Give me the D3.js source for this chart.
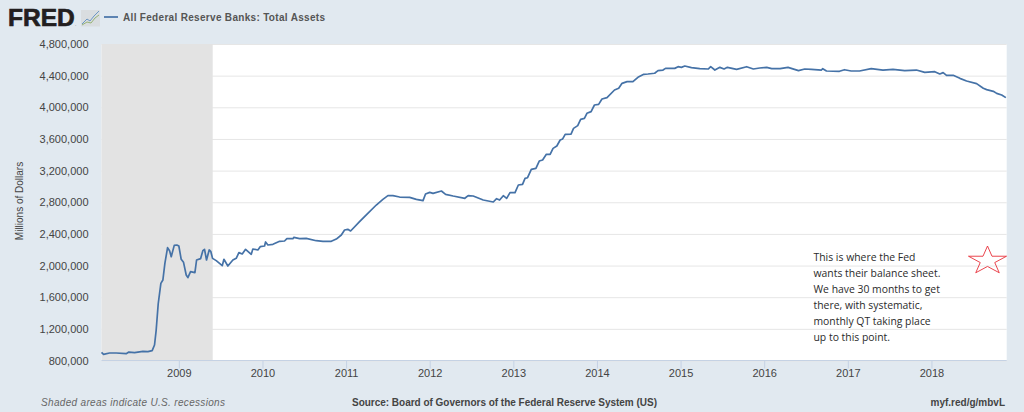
<!DOCTYPE html>
<html lang="en">
<head>
    <meta charset="UTF-8">
    <title>All Federal Reserve Banks: Total Assets</title>
    <script src="https://d3js.org/d3.v7.min.js"></script>
    <style>
        html, body {margin: 0; padding: 0; background: #e1e9f0;}
        svg {display: block;}
        text {font-family: "Liberation Sans", Arial, sans-serif;}
        .axis path {display: none;}
        .axis text {font-size: 11px; fill: #444;}
        .note text {font-family: "Open Sans", sans-serif; font-size: 10.4px; fill: #2b2b2b;}
    </style>
</head>
<body>
<script>
    //years as decimals
    var years = [
        2008.075, 2008.10, 2008.171, 2008.251, 2008.37, 2008.402, 2008.47, 2008.57, 2008.63, 2008.681,
        2008.709, 2008.729, 2008.753, 2008.785, 2008.809, 2008.833, 2008.865, 2008.889, 2008.909, 2008.945,
        2008.976, 2009.0, 2009.028, 2009.056, 2009.088, 2009.108, 2009.14, 2009.192, 2009.212, 2009.26,
        2009.287, 2009.307, 2009.331, 2009.363, 2009.383, 2009.403, 2009.447, 2009.519, 2009.539, 2009.586,
        2009.646, 2009.686, 2009.718, 2009.758, 2009.798, 2009.866, 2009.885, 2009.945, 2009.973, 2010.025,
        2010.037, 2010.065, 2010.125, 2010.205, 2010.264, 2010.292, 2010.364, 2010.376, 2010.444, 2010.523,
        2010.643, 2010.723, 2010.823, 2010.883, 2010.943, 2010.982, 2011.02, 2011.054, 2011.161, 2011.26,
        2011.361, 2011.44, 2011.5, 2011.56, 2011.64, 2011.76, 2011.84, 2011.92, 2011.95, 2012.0,
        2012.04, 2012.14, 2012.19, 2012.28, 2012.42, 2012.46, 2012.52, 2012.64, 2012.76, 2012.80,
        2012.836, 2012.88, 2012.92, 2012.96, 2013.02, 2013.06, 2013.11, 2013.14, 2013.17, 2013.215,
        2013.27, 2013.31, 2013.35, 2013.395, 2013.44, 2013.475, 2013.52, 2013.56, 2013.59, 2013.62,
        2013.69, 2013.72, 2013.77, 2013.805, 2013.85, 2013.88, 2013.93, 2013.97, 2014.02, 2014.06,
        2014.12, 2014.21, 2014.26, 2014.30, 2014.36, 2014.43, 2014.49, 2014.56, 2014.61, 2014.69,
        2014.73, 2014.79, 2014.82, 2014.93, 2014.97, 2015.01, 2015.05, 2015.13, 2015.23, 2015.33,
        2015.36, 2015.41, 2015.47, 2015.52, 2015.56, 2015.67, 2015.79, 2015.87, 2015.946, 2016.03,
        2016.09, 2016.19, 2016.285, 2016.41, 2016.485, 2016.565, 2016.685, 2016.70, 2016.745, 2016.90,
        2016.96, 2017.04, 2017.14, 2017.28, 2017.42, 2017.54, 2017.68, 2017.82, 2017.92, 2018.04,
        2018.10, 2018.14, 2018.18, 2018.26, 2018.34, 2018.42, 2018.54, 2018.62, 2018.66, 2018.74,
        2018.78, 2018.84, 2018.89
    ];

    //total assets, millions of dollars
    var totalAssets = [
        903000, 878000, 895000, 895000, 886000, 907000, 899000, 916000, 912000, 924000,
        996000, 1185000, 1514000, 1775000, 1817000, 2028000, 2226000, 2188000, 2112000, 2255000,
        2260000, 2247000, 2079000, 2041000, 1881000, 1847000, 1923000, 1910000, 2070000, 2087000,
        2188000, 2205000, 2070000, 2197000, 2175000, 2091000, 2062000, 1998000, 2079000, 1994000,
        2070000, 2091000, 2163000, 2146000, 2205000, 2142000, 2209000, 2197000, 2239000, 2247000,
        2298000, 2260000, 2268000, 2306000, 2310000, 2340000, 2340000, 2357000, 2340000, 2344000,
        2314000, 2306000, 2306000, 2335000, 2386000, 2449000, 2458000, 2437000, 2555000, 2660000,
        2765000, 2837000, 2883000, 2883000, 2866000, 2862000, 2837000, 2820000, 2904000, 2925000,
        2912000, 2942000, 2900000, 2879000, 2850000, 2883000, 2879000, 2828000, 2803000, 2845000,
        2828000, 2883000, 2849000, 2921000, 2921000, 3018000, 3026000, 3102000, 3110000, 3216000,
        3229000, 3321000, 3334000, 3406000, 3406000, 3481000, 3511000, 3587000, 3600000, 3658000,
        3662000, 3734000, 3768000, 3848000, 3860000, 3924000, 3945000, 4029000, 4037000, 4105000,
        4122000, 4219000, 4240000, 4303000, 4324000, 4324000, 4379000, 4417000, 4421000, 4430000,
        4463000, 4471000, 4492000, 4492000, 4513000, 4505000, 4522000, 4501000, 4488000, 4484000,
        4513000, 4471000, 4505000, 4484000, 4505000, 4480000, 4513000, 4484000, 4497000, 4505000,
        4488000, 4488000, 4505000, 4463000, 4484000, 4480000, 4471000, 4488000, 4459000, 4455000,
        4475000, 4459000, 4459000, 4488000, 4471000, 4480000, 4463000, 4471000, 4442000, 4450000,
        4421000, 4438000, 4404000, 4404000, 4366000, 4332000, 4299000, 4240000, 4223000, 4202000,
        4176000, 4155000, 4122000
    ];

    var yTicks = [800000, 1200000, 1600000, 2000000, 2400000, 2800000, 3200000, 3600000, 4000000, 4400000, 4800000];
    var xTicks = [2009, 2010, 2011, 2012, 2013, 2014, 2015, 2016, 2017, 2018];
    var recession = [2008.075, 2009.405];
    var noteLines = [
        "This is where the Fed",
        "wants their balance sheet.",
        "We have 30 months to get",
        "there, with systematic,",
        "monthly QT taking place",
        "up to this point."
    ];

    //create svg border and size
    var margin = {top: 44, right: 17.3, bottom: 51.5, left: 101.5},
        width = 1024 - margin.left - margin.right,
        height = 412 - margin.top - margin.bottom;

    var svg = d3.select("body").append("svg")
        .attr("width", 1024)
        .attr("height", 412);

    var g = svg.append("g")
        .attr("transform", "translate(" + margin.left + "," + margin.top + ")");

    var x = d3.scaleLinear().domain([2008.075, 2018.90]).range([0, width]);
    var y = d3.scaleLinear().domain([800000, 4800000]).range([height, 0]);

    g.append("rect").attr("width", width).attr("height", height).attr("fill", "#fff");

    //horizontal grid
    var yAxis = g.append("g").attr("class", "axis")
        .call(d3.axisLeft(y).tickValues(yTicks).tickFormat(d3.format(",")).tickSize(-width).tickPadding(13));
    yAxis.selectAll("line").attr("stroke", "#e6e6e6");

    //recession band
    g.append("rect")
        .attr("x", x(recession[0]))
        .attr("width", x(recession[1]) - x(recession[0]))
        .attr("height", height)
        .attr("fill", "#e3e3e3");

    //bottom axis
    var xAxis = g.append("g").attr("class", "axis")
        .attr("transform", "translate(0," + height + ")")
        .call(d3.axisBottom(x).tickValues(xTicks).tickFormat(d3.format("d")).tickSize(8).tickPadding(1));
    xAxis.selectAll("line").attr("stroke", "#c5d2e4");
    g.append("line")
        .attr("x1", 0).attr("x2", width)
        .attr("y1", height).attr("y2", height)
        .attr("stroke", "#c5d2e4");

    //the series
    var line = d3.line()
        .x(function (d, i) { return x(years[i]); })
        .y(function (d) { return y(d); });

    g.append("path")
        .datum(totalAssets)
        .attr("d", line)
        .attr("fill", "none")
        .attr("stroke", "#4572a7")
        .attr("stroke-width", 1.7)
        .attr("stroke-linejoin", "round");

    //logo and legend
    svg.append("text").text("FRED")
        .attr("x", 8).attr("y", 26)
        .attr("font-size", 24.5).attr("font-weight", "bold")
        .attr("fill", "#231f20").attr("stroke", "#231f20").attr("stroke-width", 0.7);
    svg.append("text").text(".")
        .attr("x", 75).attr("y", 26).attr("font-size", 5).attr("fill", "#777");
    svg.append("rect")
        .attr("x", 81).attr("y", 10).attr("width", 19).attr("height", 16.5)
        .attr("fill", "#d9dde0");
    svg.append("path").attr("d", "M82,24L87,19L90,21L94,16L99,11")
        .attr("fill", "none").attr("stroke", "#5f8fc0").attr("stroke-width", 0.9);
    svg.append("path").attr("d", "M82,25L87,22L91,23L95,18L99,15")
        .attr("fill", "none").attr("stroke", "#8fae6a").attr("stroke-width", 0.9);
    svg.append("line")
        .attr("x1", 104).attr("x2", 118).attr("y1", 17).attr("y2", 17)
        .attr("stroke", "#4572a7").attr("stroke-width", 1.7);
    svg.append("text").text("All Federal Reserve Banks: Total Assets")
        .attr("x", 123).attr("y", 21)
        .attr("font-size", 10).attr("font-weight", "bold")
        .attr("fill", "#555").attr("textLength", 202);

    //y label
    svg.append("text").text("Millions of Dollars")
        .attr("transform", "translate(23,201) rotate(-90)")
        .attr("text-anchor", "middle")
        .attr("font-size", 10).attr("fill", "#444");

    //footer
    svg.append("text").text("Shaded areas indicate U.S. recessions")
        .attr("x", 41).attr("y", 406)
        .attr("font-size", 10).attr("font-style", "italic")
        .attr("fill", "#666").attr("textLength", 184);
    svg.append("text").text("Source: Board of Governors of the Federal Reserve System (US)")
        .attr("x", 352).attr("y", 406)
        .attr("font-size", 10).attr("font-weight", "bold")
        .attr("fill", "#444").attr("textLength", 305);
    svg.append("text").text("myf.red/g/mbvL")
        .attr("x", 1005).attr("y", 406)
        .attr("text-anchor", "end")
        .attr("font-size", 10).attr("font-weight", "bold").attr("fill", "#444");

    //pasted annotation and star
    svg.append("g").attr("class", "note")
        .selectAll("text").data(noteLines).enter().append("text")
        .attr("x", 813.5)
        .attr("y", function (d, i) { return 260.5 + i * 16; })
        .text(function (d) { return d; });

    svg.append("path")
        .attr("d", d3.symbol().type(d3.symbolStar).size(449)())
        .attr("transform", "translate(987.5,260.8) scale(1,0.74)")
        .attr("fill", "none")
        .attr("stroke", "#e8303a")
        .attr("stroke-width", 0.9)
        .attr("vector-effect", "non-scaling-stroke");
</script>
</body>
</html>
